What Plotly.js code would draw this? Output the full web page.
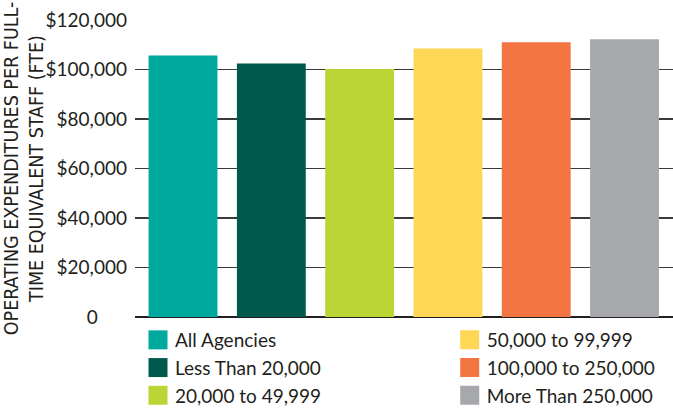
<!DOCTYPE html>
<html>
<head>
<meta charset="utf-8">
<script src="https://cdn.plot.ly/plotly-3.0.1.min.js"></script>
<style>
html,body{margin:0;padding:0;background:#fff;}
#chart{width:673px;height:409px;}
</style>
</head>
<body>
<div id="chart"></div>
<script>
// ---- data ----
var categories = ['All Agencies', 'Less Than 20,000', '20,000 to 49,999', '50,000 to 99,999', '100,000 to 250,000', 'More Than 250,000'];
var values = [105700, 102400, 100200, 108500, 111000, 112200];
var colors = ['#00A99D', '#00594C', '#BBD534', '#FED757', '#F37542', '#A7A8AB'];
var tickValues = [0, 20000, 40000, 60000, 80000, 100000, 120000];
var tickLabels = ['0\u00a0\u00a0\u00a0\u00a0\u00a0\u00a0', '$20,000', '$40,000', '$60,000', '$80,000', '$100,000', '$120,000'];
var yTitle = 'OPERATING EXPENDITURES PER FULL-<br>TIME EQUIVALENT STAFF (FTE)';

var traces = categories.map(function (c, i) {
  return {
    type: 'bar',
    x: [c],
    y: [values[i]],
    name: c,
    width: 0.78,
    marker: {color: colors[i]},
    legend: i < 3 ? 'legend' : 'legend2',
    hoverinfo: 'none'
  };
});

var legendCommon = {
  orientation: 'v',
  xanchor: 'left',
  yanchor: 'top',
  font: {family: 'Lato, sans-serif', size: 19, color: '#231F20'},
  bgcolor: 'rgba(0,0,0,0)',
  borderwidth: 0,
  traceorder: 'normal',
  itemclick: false,
  itemdoubleclick: false
};

var layout = {
  width: 673,
  height: 409,
  margin: {l: 135, r: 0, t: 20, b: 92, autoexpand: false},
  paper_bgcolor: '#fff',
  plot_bgcolor: '#fff',
  barmode: 'overlay',
  showlegend: true,
  legend: Object.assign({}, legendCommon, {x: 0, y: -0.0135}),
  legend2: Object.assign({}, legendCommon, {x: 0.5794, y: -0.0135}),
  xaxis: {
    type: 'category',
    categoryorder: 'array',
    categoryarray: categories,
    range: [-0.544, 5.549],
    showticklabels: false,
    showgrid: false,
    zeroline: false,
    showline: false,
    ticks: ''
  },
  yaxis: {
    range: [0, 120000],
    tickmode: 'array',
    tickvals: tickValues,
    ticktext: tickLabels,
    tickfont: {family: 'Lato, sans-serif', size: 19, color: '#231F20'},
    ticks: '',
    ticklabelstandoff: 7,
    showgrid: true,
    gridcolor: '#3a3a3a',
    gridwidth: 1.3,
    zeroline: true,
    zerolinecolor: '#231F20',
    zerolinewidth: 1.5,
    showline: false,
    title: {
      text: yTitle,
      font: {family: '"Liberation Sans Narrow", "DejaVu Sans Condensed", sans-serif', size: 19.5, color: '#231F20'}
    }
  }
};

Plotly.newPlot('chart', traces, layout, {staticPlot: true, displayModeBar: false}).then(function () {
  document.querySelectorAll('.legendpoints path').forEach(function (p) {
    p.setAttribute('d', 'M12.5,9.5H-6.5V-9.5H12.5Z');
  });
});
</script>
</body>
</html>
